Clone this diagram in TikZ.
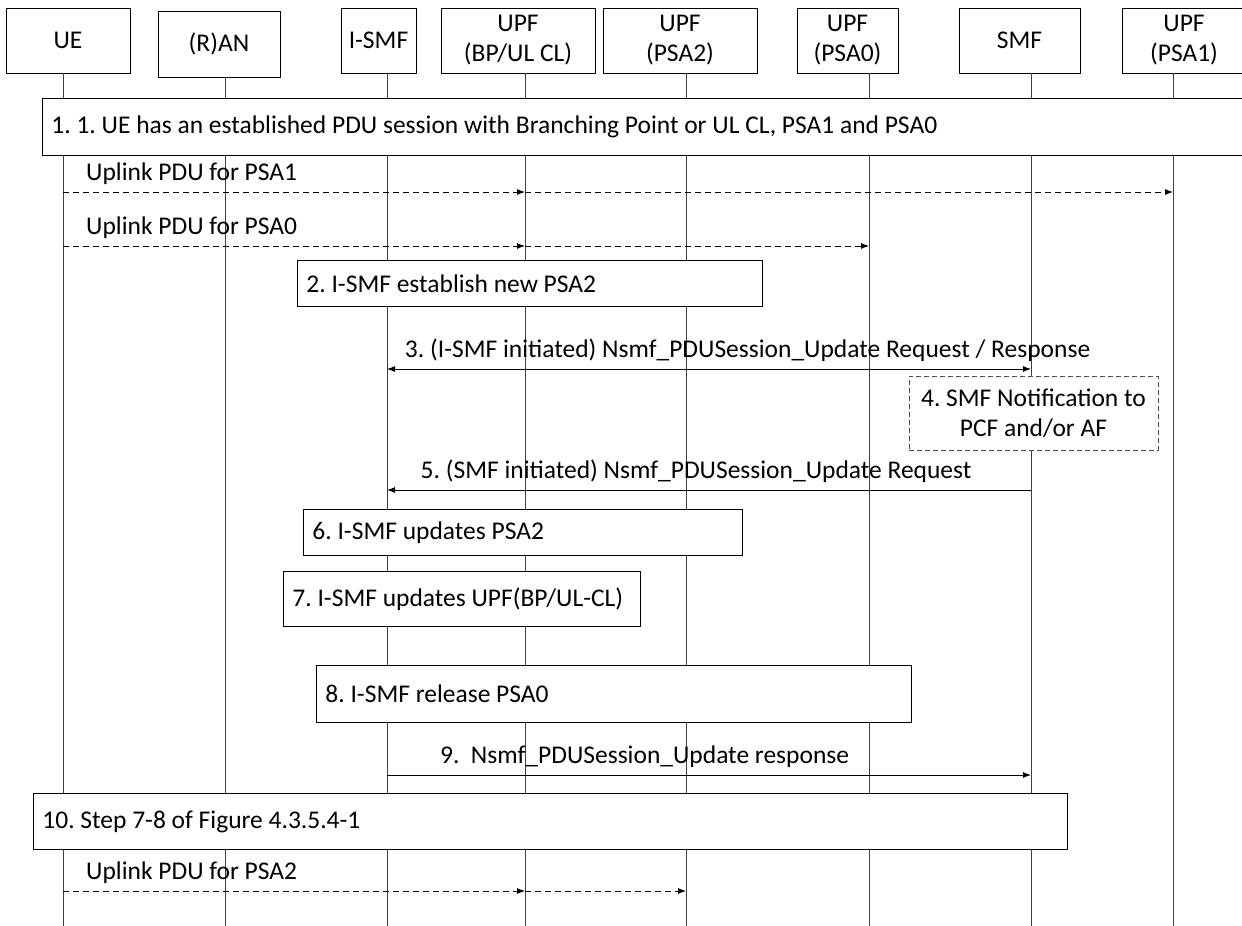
\documentclass[tikz,border=0pt]{standalone}
\usepackage{fontspec}
\setmainfont{Carlito}
\usetikzlibrary{arrows.meta}
\frenchspacing

\tikzset{
  entity/.style={draw, fill=white, align=center, inner sep=0pt, line width=0.9pt},
  life/.style={line width=0.8pt, draw=black!75},
  stepbox/.style={draw, fill=white, anchor=north west, align=flush left, inner xsep=9pt, inner ysep=0pt, line width=0.9pt},
  notebox/.style={draw=black!70, fill=white, align=center, inner sep=0pt, line width=0.9pt, dash pattern=on 5pt off 3pt},
  msg/.style={line width=0.9pt, -{Latex[length=8pt,width=6pt]}},
  dmsg/.style={msg, dash pattern=on 6pt off 4pt},
  lbl/.style={inner sep=7pt},
}

\begin{document}
\begin{tikzpicture}[x=1pt, y=-1pt, font=\fontsize{25.5}{30}\selectfont]
  \useasboundingbox (0,0) rectangle (1242,926);

  % network functions
  \node[entity, minimum width=124pt, minimum height=65pt] (ue)   at (68,40.5)   {UE};
  \node[entity, minimum width=122pt, minimum height=66pt] (ran)  at (219,44)    {(R)AN};
  \node[entity, minimum width=75pt,  minimum height=65pt] (ismf) at (378.5,40.5) {I-SMF};
  \node[entity, minimum width=154pt, minimum height=65pt] (bp)   at (518,40.5)  {UPF\\(BP/UL CL)};
  \node[entity, minimum width=154pt, minimum height=65pt] (psa2) at (680,40.5)  {UPF\\(PSA2)};
  \node[entity, minimum width=101pt, minimum height=65pt] (psa0) at (847.5,40.5) {UPF\\(PSA0)};
  \node[entity, minimum width=121pt, minimum height=65pt] (smf)  at (1019.5,40.5) {SMF};
  \node[entity, minimum width=124pt, minimum height=65pt] (psa1) at (1184,40.5) {UPF\\(PSA1)};

  % lifelines
  \coordinate (ueB)   at (63,926);
  \coordinate (ranB)  at (225,926);
  \coordinate (ismfB) at (387,926);
  \coordinate (bpB)   at (525,926);
  \coordinate (psa2B) at (686,926);
  \coordinate (psa0B) at (869,926);
  \coordinate (smfB)  at (1031,926);
  \coordinate (psa1B) at (1173,926);
  \foreach \n in {ue,ran,ismf,bp,psa2,psa0,smf,psa1}
    \draw[life] (\n.south -| \n B) -- (\n B);

  % message rows
  \coordinate (y1) at (0,192);
  \coordinate (y2) at (0,246);
  \coordinate (y3) at (0,369);
  \coordinate (y5) at (0,490);
  \coordinate (y9) at (0,775);
  \coordinate (y11) at (0,891);

  % 1
  \node[stepbox, text width=1190pt, minimum height=57pt] (s1) at (42,98)
    {1. 1. UE has an established PDU session with Branching Point or UL CL, PSA1 and PSA0};
  \draw[dmsg] (ueB |- y1) -- (bpB |- y1);
  \draw[dmsg] (bpB |- y1) -- (psa1B |- y1);
  \node[lbl, above right, xshift=16pt] (t1) at (ueB |- y1) {Uplink PDU for PSA1};
  \draw[dmsg] (ueB |- y2) -- (bpB |- y2);
  \draw[dmsg] (bpB |- y2) -- (psa0B |- y2);
  \node[lbl, above right, xshift=16pt] (t2) at (ueB |- y2) {Uplink PDU for PSA0};

  % 2
  \node[stepbox, text width=447pt, minimum height=46pt] (s2) at (297,260) {2. I-SMF establish new PSA2};

  % 3
  \draw[line width=0.9pt, {Latex[length=8pt,width=6pt]}-{Latex[length=8pt,width=6pt]}] (ismfB |- y3) --
    node[lbl, above, pos=0.56] (t3) {3. (I-SMF initiated) Nsmf\_PDUSession\_Update Request / Response} (smfB |- y3);

  % 4
  \node[notebox, minimum width=249pt, minimum height=74pt] (s4) at (1033.5,413)
    {4. SMF Notification to\\PCF and/or AF};

  % 5
  \draw[msg] (smfB |- y5) --
    node[lbl, above, pos=0.52] (t5) {5. (SMF initiated) Nsmf\_PDUSession\_Update Request} (ismfB |- y5);

  % 6 - 8
  \node[stepbox, text width=421pt, minimum height=46pt] (s6) at (303,509) {6. I-SMF updates PSA2};
  \node[stepbox, text width=339pt, minimum height=55pt] (s7) at (283,571) {7. I-SMF updates UPF(BP/UL-CL)};
  \node[stepbox, text width=577pt, minimum height=57pt] (s8) at (316,665) {8. I-SMF release PSA0};

  % 9
  \draw[msg] (ismfB |- y9) --
    node[lbl, above, pos=0.40] (t9) {9.\ \ Nsmf\_PDUSession\_Update response} (smfB |- y9);

  % 10
  \node[stepbox, text width=1016pt, minimum height=56pt] (s10) at (33,793) {10. Step 7-8 of Figure 4.3.5.4-1};
  \draw[dmsg] (ueB |- y11) -- (bpB |- y11);
  \draw[dmsg] (bpB |- y11) -- (psa2B |- y11);
  \node[lbl, above right, xshift=16pt] (t11) at (ueB |- y11) {Uplink PDU for PSA2};
\end{tikzpicture}
\end{document}
